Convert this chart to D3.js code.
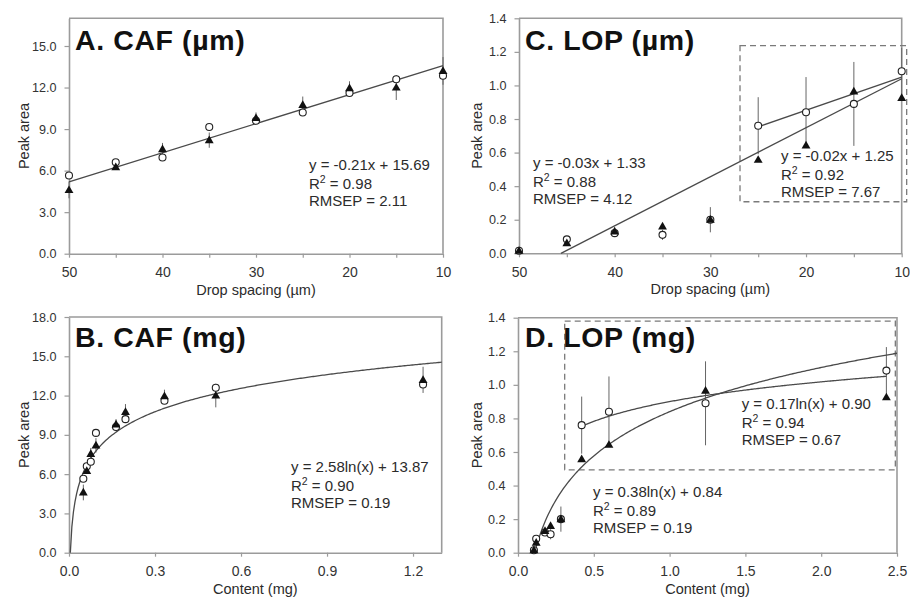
<!DOCTYPE html>
<html>
<head>
<meta charset="utf-8">
<script src="https://cdn.jsdelivr.net/npm/d3@7"></script>
<style>
  body { margin: 0; background: #fff; }
  svg { display: block; font-family: "Liberation Sans", Arial, Helvetica, sans-serif; }
</style>
</head>
<body>
<svg id="chart" width="910" height="597"></svg>
<script>
// ---- data -------------------------------------------------------------
// drop spacing (µm) of the nine printing conditions
const spacing = [50, 45, 40, 35, 30, 25, 20, 15, 10];
// deposited content (mg) for each spacing
const cafContent = [0.05, 0.062, 0.076, 0.094, 0.164, 0.197, 0.333, 0.512, 1.235];
const lopContent = [0.105, 0.12, 0.178, 0.215, 0.283, 0.42, 0.60, 1.237, 2.43];

// caffeine peak areas (open circles / filled triangles)
const cafCircle   = [5.65, 6.6, 6.95, 9.15, 9.6, 10.2, 11.6, 12.6, 12.85];
const cafTriangle = [4.6, 6.25, 7.55, 8.2, 9.8, 10.75, 11.95, 12.0, 13.2];
const cafTriangleErr = [0.6, 0.2, 0.45, 0.55, 0.4, 0.6, 0.5, 0.9, 1.0];

// loperamide peak areas (open circles / filled triangles)
const lopCircle   = [0.015, 0.083, 0.12, 0.11, 0.20, 0.76, 0.84, 0.89, 1.085];
const lopTriangle = [0.015, 0.06, 0.13, 0.16, 0.20, 0.557, 0.643, 0.965, 0.926];
const lopCircleErr = [0, 0.01, 0.01, 0.03, 0.075, 0.17, 0.21, 0.25, 0.14];

// regression coefficients [slope or ln-coefficient, intercept]
const fitCafSpacing   = [-0.21, 15.69];
const fitCafContent   = [2.58, 13.87];
const fitLopSpacing   = [-0.0292, 1.332];
const fitLopSpacingHi = [-0.0197, 1.246];
const fitLopContent   = [0.38, 0.84];
const fitLopContentHi = [0.17, 0.90];

// [R², RMSEP] for each fit
const statsCafSpacing   = [0.98, 2.11];
const statsCafContent   = [0.90, 0.19];
const statsLopSpacing   = [0.88, 4.12];
const statsLopSpacingHi = [0.92, 7.67];
const statsLopContent   = [0.89, 0.19];
const statsLopContentHi = [0.94, 0.67];

// axis ticks
const spacingTicks = [50, 45, 40, 35, 30, 25, 20, 15, 10];
const cafAreaTicks = [0, 3, 6, 9, 12, 15];
const cafAreaTicksB = [0, 3, 6, 9, 12, 15, 18];
const lopAreaTicks = [0, 0.2, 0.4, 0.6, 0.8, 1.0, 1.2, 1.4];
const cafContentTicks = [0, 0.3, 0.6, 0.9, 1.2];
const lopContentTicks = [0, 0.5, 1.0, 1.5, 2.0, 2.5];

// ---- drawing ------------------------------------------------------------
const svg = d3.select("#chart");
const FRAME = "#9b9b9b";
const INK = "#2b2b2b";
const f2 = v => (+v).toFixed(2);   // plain hyphen for negatives

const linear = c => x => c[0] * x + c[1];
const logfit = c => x => c[0] * Math.log(x) + c[1];

function eqText(c, kind) {
  const sign = c[1] < 0 ? " - " : " + ";
  const b = f2(Math.abs(c[1]));
  return kind === "lin" ? `y = ${f2(c[0])}x${sign}${b}` : `y = ${f2(c[0])}ln(x)${sign}${b}`;
}

function panel(cfg) {
  const g = svg.append("g");
  const { l, r, t, b } = cfg.box;
  const x = d3.scaleLinear().domain(cfg.xDomain).range([l, r]);
  const y = d3.scaleLinear().domain(cfg.yDomain).range([b, t]);

  // frame: top and right
  g.append("path")
    .attr("d", `M${l},${t}H${r}V${b}`)
    .attr("fill", "none").attr("stroke", FRAME).attr("stroke-width", 1.6);

  // y axis
  const ya = g.append("g").attr("transform", `translate(${l},0)`)
    .call(d3.axisLeft(y).tickValues(cfg.yTicks).tickFormat(d3.format(".1f"))
      .tickSize(4.5).tickSizeOuter(0).tickPadding(8));
  // x axis
  const xa = g.append("g").attr("transform", `translate(0,${b})`)
    .call(d3.axisBottom(x).tickValues(cfg.xTicks).tickFormat(cfg.xFormat)
      .tickSize(4).tickSizeOuter(0).tickPadding(9.4));
  [ya, xa].forEach(a => {
    a.select(".domain").attr("stroke", FRAME).attr("stroke-width", 1.6);
    a.selectAll(".tick line").attr("stroke", FRAME).attr("stroke-width", 1.2);
    a.selectAll("text").attr("fill", "#333").attr("font-family", null);
  });
  ya.attr("font-size", 12.6);
  xa.attr("font-size", 14);

  // axis titles
  g.append("text")
    .attr("transform", `translate(${cfg.yTitleX},${(t + b) / 2}) rotate(-90)`)
    .attr("text-anchor", "middle").attr("dy", "0.35em")
    .attr("font-size", 14.5).attr("fill", INK).text("Peak area");
  g.append("text")
    .attr("x", (l + r) / 2).attr("y", b + 41)
    .attr("text-anchor", "middle")
    .attr("font-size", 14.5).attr("fill", INK).text(cfg.xTitle);

  // dashed region of the high-content fit
  if (cfg.region) {
    const [x0, x1, y0, y1] = cfg.region;
    g.append("rect")
      .attr("x", x(x0)).attr("y", y(y1))
      .attr("width", x(x1) - x(x0)).attr("height", y(y0) - y(y1))
      .attr("fill", "none").attr("stroke", "#7a7a7a")
      .attr("stroke-width", 1.3).attr("stroke-dasharray", "6,4");
  }

  // title
  g.append("text")
    .attr("x", cfg.titlePos[0]).attr("y", cfg.titlePos[1])
    .attr("font-size", 28.5).attr("font-weight", "bold").attr("fill", "#111")
    .attr("letter-spacing", 0.6)
    .text(cfg.title);

  const pts = cfg.xs.map((xv, i) => ({
    x: xv, c: cfg.circle[i], t: cfg.triangle[i],
    ce: cfg.circleErr ? cfg.circleErr[i] : 0,
    te: cfg.triangleErr ? cfg.triangleErr[i] : 0
  }));

  // error bars
  const eb = g.append("g").attr("stroke", "#666").attr("stroke-width", 1);
  pts.forEach(p => {
    if (p.ce > 0) {
      eb.append("line").attr("x1", x(p.x)).attr("x2", x(p.x))
        .attr("y1", y(p.c - p.ce)).attr("y2", y(Math.min(p.c + p.ce, cfg.yDomain[1])));
    }
    if (p.te > 0) {
      eb.append("line").attr("x1", x(p.x)).attr("x2", x(p.x))
        .attr("y1", y(p.t - p.te)).attr("y2", y(p.t + p.te));
    }
  });

  // fitted lines / curves
  cfg.fits.forEach(fit => {
    const [a0, a1] = fit.range;
    const n = fit.kind === "lin" ? 1 : 240;
    const xsFit = d3.range(n + 1).map(k => a0 + (a1 - a0) * k / n);
    g.append("path")
      .attr("d", d3.line().x(d => x(d)).y(d => y(fit.fn(d)))(xsFit))
      .attr("fill", "none").attr("stroke", "#4a4a4a").attr("stroke-width", 1.3);
  });

  // markers
  g.append("g").selectAll("circle").data(pts).join("circle")
    .attr("cx", d => x(d.x)).attr("cy", d => y(d.c)).attr("r", 3.5)
    .attr("fill", "#fff").attr("stroke", "#222").attr("stroke-width", 1.1);
  g.append("g").selectAll("path").data(pts).join("path")
    .attr("transform", d => `translate(${x(d.x)},${y(d.t) + 0.5})`)
    .attr("d", d3.symbol(d3.symbolTriangle, 34))
    .attr("fill", "#111");

  // equation blocks
  cfg.eqs.forEach(e => {
    const tg = g.append("g").attr("font-size", 15).attr("fill", INK);
    tg.append("text").attr("x", e.pos[0]).attr("y", e.pos[1]).text(eqText(e.coef, e.kind));
    const r2 = tg.append("text").attr("x", e.pos[0]).attr("y", e.pos[1] + 19);
    r2.append("tspan").text("R");
    r2.append("tspan").attr("dy", -6).attr("font-size", 10.5).text("2");
    r2.append("tspan").attr("dy", 6).text(` = ${f2(e.stats[0])}`);
    tg.append("text").attr("x", e.pos[0]).attr("y", e.pos[1] + 36).text(`RMSEP = ${f2(e.stats[1])}`);
  });
}

const tenFormat = d => (d % 10 === 0 ? d3.format("d")(d) : "");

panel({
  title: "A. CAF (µm)", titlePos: [75, 49.5],
  box: { l: 69, r: 443, t: 18.3, b: 253.7 },
  xDomain: [50, 10], yDomain: [0, 17],
  xTicks: spacingTicks, xFormat: tenFormat, yTicks: cafAreaTicks,
  xTitle: "Drop spacing (µm)", yTitleX: 24,
  xs: spacing, circle: cafCircle, triangle: cafTriangle, triangleErr: cafTriangleErr,
  fits: [{ kind: "lin", fn: linear(fitCafSpacing), range: [50, 10] }],
  eqs: [{ coef: fitCafSpacing, kind: "lin", stats: statsCafSpacing, pos: [309, 170] }]
});

panel({
  title: "B. CAF (mg)", titlePos: [75, 347],
  box: { l: 69, r: 441.7, t: 317, b: 552.7 },
  xDomain: [0, 1.3], yDomain: [0, 18],
  xTicks: cafContentTicks, xFormat: d3.format(".1f"), yTicks: cafAreaTicksB,
  xTitle: "Content (mg)", yTitleX: 24,
  xs: cafContent, circle: cafCircle, triangle: cafTriangle, triangleErr: cafTriangleErr,
  fits: [{ kind: "log", fn: logfit(fitCafContent),
           range: [Math.exp(-fitCafContent[1] / fitCafContent[0]), 1.3] }],
  eqs: [{ coef: fitCafContent, kind: "log", stats: statsCafContent, pos: [291, 472] }]
});

panel({
  title: "C. LOP (µm)", titlePos: [525, 49.5],
  box: { l: 519, r: 901.7, t: 18.3, b: 253.3 },
  xDomain: [50, 10], yDomain: [0, 1.4],
  xTicks: spacingTicks, xFormat: tenFormat, yTicks: lopAreaTicks,
  xTitle: "Drop spacing (µm)", yTitleX: 477,
  xs: spacing, circle: lopCircle, triangle: lopTriangle, circleErr: lopCircleErr,
  region: [26.9, 9.48, 0.307, 1.237],
  fits: [
    { kind: "lin", fn: linear(fitLopSpacing), range: [-fitLopSpacing[1] / fitLopSpacing[0], 10] },
    { kind: "lin", fn: linear(fitLopSpacingHi), range: [25, 10] }
  ],
  eqs: [
    { coef: fitLopSpacing, kind: "lin", stats: statsLopSpacing, pos: [533, 168.3] },
    { coef: fitLopSpacingHi, kind: "lin", stats: statsLopSpacingHi, pos: [781, 160.7] }
  ]
});

panel({
  title: "D. LOP (mg)", titlePos: [525, 346.5],
  box: { l: 518, r: 897, t: 317.7, b: 552.7 },
  xDomain: [0, 2.5], yDomain: [0, 1.4],
  xTicks: lopContentTicks, xFormat: d3.format(".1f"), yTicks: lopAreaTicks,
  xTitle: "Content (mg)", yTitleX: 477,
  xs: lopContent, circle: lopCircle, triangle: lopTriangle, circleErr: lopCircleErr,
  region: [0.308, 2.489, 0.494, 1.38],
  fits: [
    { kind: "log", fn: logfit(fitLopContent),
      range: [Math.exp(-fitLopContent[1] / fitLopContent[0]), 2.5] },
    { kind: "log", fn: logfit(fitLopContentHi), range: [0.42, 2.43] }
  ],
  eqs: [
    { coef: fitLopContentHi, kind: "log", stats: statsLopContentHi, pos: [741.7, 408.7] },
    { coef: fitLopContent, kind: "log", stats: statsLopContent, pos: [593, 497] }
  ]
});
</script>
</body>
</html>
